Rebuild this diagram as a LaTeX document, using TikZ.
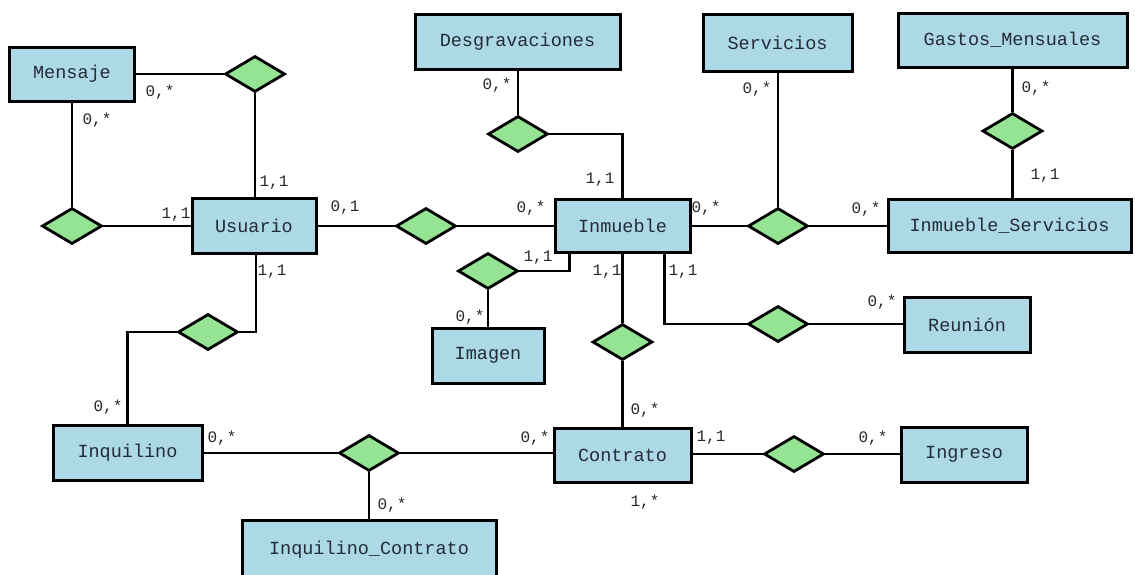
\documentclass[tikz,border=0pt]{standalone}
\usepackage{fontspec}
\setmonofont{Liberation Mono}
\usetikzlibrary{shapes.geometric}
\definecolor{entfill}{RGB}{173,216,230}
\definecolor{relfill}{RGB}{148,228,148}
\definecolor{txt}{RGB}{35,45,55}
\definecolor{lbl}{RGB}{40,40,40}
\tikzset{
  ent/.style={draw=black, fill=entfill, line width=3pt, inner sep=0pt,
    font=\ttfamily\fontsize{18.5}{20}\selectfont, text=txt},
  rel/.style={draw=black, fill=relfill, line width=2.8pt, diamond, inner sep=0pt,
    minimum width=60pt, minimum height=36pt},
  conn/.style={line width=2.8pt, draw=black},
  card/.style={font=\ttfamily\fontsize{16}{17}\selectfont, text=lbl, inner sep=0pt}
}
\begin{document}
\begin{tikzpicture}[x=1pt,y=-1pt]
\useasboundingbox[fill=white] (0,0) rectangle (1135,574);
% entities
\node[ent, minimum width=125pt, minimum height=54pt] (mensaje) at (72,74) {Mensaje};
\node[ent, minimum width=124pt, minimum height=55pt] (usuario) at (254,226) {Usuario};
\node[ent, minimum width=135pt, minimum height=53pt] (inmueble) at (622.5,226) {Inmueble};
\node[ent, minimum width=205pt, minimum height=55pt] (desg) at (517.5,41.5) {Desgravaciones};
\node[ent, minimum width=149pt, minimum height=57pt] (serv) at (777.5,42.5) {Servicios};
\node[ent, minimum width=229pt, minimum height=54pt] (gastos) at (1012.5,40) {Gastos\_Mensuales};
\node[ent, minimum width=243pt, minimum height=53pt] (inmserv) at (1009.5,226) {Inmueble\_Servicios};
\node[ent, minimum width=149pt, minimum height=55pt] (inquilino) at (127.5,453) {Inquilino};
\node[ent, minimum width=254pt, minimum height=60pt] (inqcon) at (369,550) {Inquilino\_Contrato};
\node[ent, minimum width=137pt, minimum height=54pt] (contrato) at (622.5,455) {Contrato};
\node[ent, minimum width=112pt, minimum height=55pt] (imagen) at (488,355.5) {Imagen};
\node[ent, minimum width=126pt, minimum height=55pt] (reunion) at (967,324.5) {Reunión};
\node[ent, minimum width=126pt, minimum height=55pt] (ingreso) at (964,454.5) {Ingreso};
% relationships
\node[rel] (r1) at (255,74) {};
\node[rel] (r2) at (72,226) {};
\node[rel] (r3) at (426,226) {};
\node[rel] (r4) at (518,134) {};
\node[rel] (r5) at (778,226) {};
\node[rel] (r6) at (1012.5,131) {};
\node[rel] (r7) at (208,332) {};
\node[rel] (r8) at (369,453) {};
\node[rel] (r9) at (622.5,342) {};
\node[rel] (r10) at (488,271) {};
\node[rel] (r11) at (778,324) {};
\node[rel] (r12) at (794,454) {};
% connectors
\begin{scope}[conn]
\draw (mensaje.east) -- (r1.west);
\draw (r1.south) -- (r1.south |- usuario.north);
\draw (mensaje.south) -- (r2.north);
\draw (r2.east) -- (usuario.west);
\draw (usuario.east) -- (r3.west);
\draw (r3.east) -- (inmueble.west);
\draw (desg.south -| r4.north) -- (r4.north);
\draw (r4.east) -| (inmueble.north);
\draw (serv.south -| r5.north) -- (r5.north);
\draw (inmueble.east) -- (r5.west);
\draw (r5.east) -- (inmserv.west);
\draw (gastos.south) -- (r6.north);
\draw (r6.south) -- (r6.south |- inmserv.north);
\draw ([xshift=2pt]usuario.south) |- (r7.east);
\draw (r7.west) -| (inquilino.north);
\draw (inquilino.east) -- (r8.west);
\draw (r8.east) -- (r8.east -| contrato.west);
\draw (r8.south) -- (inqcon.north);
\draw (inmueble.south) -- (r9.north);
\draw (r9.south) -- (contrato.north);
\draw ([xshift=16pt]inmueble.south west) |- (r10.east);
\draw (r10.south) -- (imagen.north);
\draw ([xshift=-27pt]inmueble.south east) |- (r11.west);
\draw (r11.east) -- (r11.east -| reunion.west);
\draw (r12.west -| contrato.east) -- (r12.west);
\draw (r12.east) -- (r12.east -| ingreso.west);
\end{scope}
% cardinalities
\node[card] (l1) at (160,92) {0,*};
\node[card] (l2) at (97,120) {0,*};
\node[card] (l3) at (274,183) {1,1};
\node[card] (l4) at (176,215) {1,1};
\node[card] (l5) at (345,208) {0,1};
\node[card] (l6) at (531,208) {0,*};
\node[card] (l7) at (497,85) {0,*};
\node[card] (l8) at (600,180) {1,1};
\node[card] (l9) at (757,89) {0,*};
\node[card] (l10) at (706,208) {0,*};
\node[card] (l11) at (866,209) {0,*};
\node[card] (l12) at (1036,88) {0,*};
\node[card] (l13) at (1045,176) {1,1};
\node[card] (l14) at (272,272) {1,1};
\node[card] (l15) at (108,407) {0,*};
\node[card] (l16) at (222,438) {0,*};
\node[card] (l17) at (392,505) {0,*};
\node[card] (l18) at (535,438) {0,*};
\node[card] (l19) at (645,502) {1,*};
\node[card] (l20) at (538,258) {1,1};
\node[card] (l21) at (470,317) {0,*};
\node[card] (l22) at (607,272) {1,1};
\node[card] (l23) at (645,410) {0,*};
\node[card] (l24) at (683,272) {1,1};
\node[card] (l25) at (882,302) {0,*};
\node[card] (l26) at (711,438) {1,1};
\node[card] (l27) at (873,438) {0,*};
\end{tikzpicture}
\end{document}
